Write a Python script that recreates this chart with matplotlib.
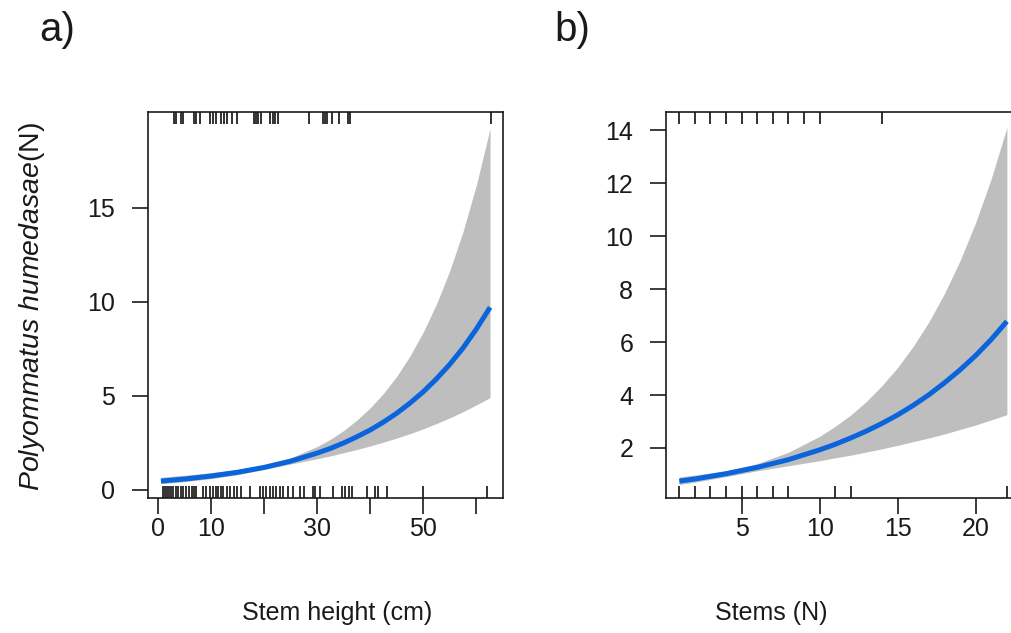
import numpy as np
import matplotlib
matplotlib.use("Agg")
import matplotlib.pyplot as plt

# panel a) : stem height effect (fit + 95% band)
height_x = [0.5, 5, 10, 15, 20, 25, 30, 32.5, 35, 37.5, 40, 42.5, 45, 47.5, 50, 52.5, 55, 57.5, 60, 62.6]
height_fit = [0.45, 0.56, 0.72, 0.92, 1.18, 1.51, 1.94, 2.19, 2.48, 2.81, 3.17, 3.59, 4.06, 4.60, 5.20,
              5.89, 6.66, 7.53, 8.53, 9.69]
height_lo = [0.31, 0.42, 0.58, 0.79, 1.07, 1.36, 1.64, 1.79, 1.96, 2.13, 2.32, 2.52, 2.74, 2.97, 3.23,
             3.51, 3.81, 4.14, 4.50, 4.89]
height_hi = [0.65, 0.76, 0.90, 1.07, 1.31, 1.69, 2.29, 2.68, 3.14, 3.70, 4.35, 5.12, 6.03, 7.11, 8.38,
             9.88, 11.64, 13.72, 16.18, 19.2]
height_rug_bottom = [0.8, 1.3, 1.7, 2.1, 2.4, 2.8, 3.3, 3.8, 4.3, 4.7, 5.2, 5.8, 6.3, 6.8, 7.2,
                     8.5, 9.0, 9.8, 10.4, 10.8, 11.2, 11.8, 12.3, 12.9, 13.5, 14.2, 14.9, 15.7,
                     17.3, 19.2, 19.7, 20.4, 21.1, 21.6, 22.3, 23.0, 23.6, 24.5, 25.5, 26.7, 27.4,
                     29.2, 29.6, 30.5, 33.0, 34.6, 35.2, 36.0, 36.6, 39.3, 40.9, 41.4, 43.1, 50.0, 62.1]
height_rug_top = [3.0, 3.3, 4.2, 4.6, 6.7, 7.1, 7.9, 9.8, 10.3, 10.9, 11.8, 12.4, 13.0, 14.0, 14.9,
                  18.1, 18.4, 18.9, 19.3, 21.1, 21.6, 22.0, 22.5, 28.5, 31.0, 31.5, 31.8, 32.8,
                  34.1, 35.8, 36.2, 62.7]

# panel b) : number of stems
stems_x = [1, 2, 4, 6, 8, 10, 11, 12, 13, 14, 15, 16, 17, 18, 19, 20, 21, 22]
stems_fit = [0.75, 0.83, 1.03, 1.27, 1.56, 1.93, 2.14, 2.38, 2.64, 2.93, 3.25, 3.61, 4.01, 4.46,
             4.95, 5.49, 6.10, 6.78]
stems_lo = [0.62, 0.71, 0.92, 1.14, 1.33, 1.52, 1.63, 1.73, 1.85, 1.97, 2.10, 2.24, 2.38, 2.53,
            2.70, 2.87, 3.06, 3.26]
stems_hi = [0.91, 0.98, 1.14, 1.41, 1.84, 2.44, 2.82, 3.25, 3.76, 4.36, 5.04, 5.84, 6.76, 7.83,
            9.07, 10.51, 12.17, 14.1]
stems_rug_bottom = [1, 2, 3, 4, 5, 6, 7, 8, 11, 12, 22]
stems_rug_top = [1, 2, 3, 4, 5, 6, 7, 8, 9, 10, 14]

plt.rcParams['font.family'] = ['Liberation Sans', 'DejaVu Sans']
plt.rcParams['mathtext.fontset'] = 'custom'
plt.rcParams['mathtext.it'] = 'Liberation Sans:italic'
plt.rcParams['mathtext.rm'] = 'Liberation Sans'

W, H = 1011, 633
ink = '#1a1a1a'
fig = plt.figure(figsize=(W / 100, H / 100), dpi=100)
ax1 = fig.add_axes([148 / W, 135 / H, 355 / W, 386 / H])
ax2 = fig.add_axes([666 / W, 135 / H, 354 / W, 386 / H])


def draw_panel(ax, x, fit, lo, hi, rug_bottom, rug_top):
    ax.fill_between(x, lo, hi, color='#bebebe', lw=0, zorder=1)
    ax.plot(x, fit, color='#0a64dc', lw=3.6, solid_capstyle='butt', zorder=3)
    trans = ax.get_xaxis_transform()
    ax.vlines(rug_bottom, 0, 0.03, transform=trans, color='#111111', lw=1.2, zorder=2)
    ax.vlines(rug_top, 0.969, 1, transform=trans, color='#111111', lw=1.2, zorder=2)
    for s in ax.spines.values():
        s.set_linewidth(1.2)
        s.set_color(ink)
    ax.tick_params(axis='both', length=11.5, width=1.2, labelsize=18, color=ink,
                   labelcolor=ink)
    ax.tick_params(axis='x', pad=2)
    ax.tick_params(axis='y', pad=12)


draw_panel(ax1, height_x, height_fit, height_lo, height_hi, height_rug_bottom, height_rug_top)
ax1.set_xlim(-1.94, 65.04)
ax1.set_ylim(-0.45, 20.08)
ax1.set_xticks([0, 10, 20, 30, 40, 50, 60])
ax1.set_xticklabels(['0', '10', '', '30', '', '50', ''])
ax1.set_yticks([0, 5, 10, 15])
ax1.set_xlabel('Stem height (cm)', fontsize=18, color=ink)
ax1.xaxis.set_label_coords(0.532, -0.266)

draw_panel(ax2, stems_x, stems_fit, stems_lo, stems_hi, stems_rug_bottom, stems_rug_top)
ax2.set_xlim(0.15, 22.84)
ax2.set_ylim(0.113, 14.68)
ax2.set_xticks([5, 10, 15, 20])
ax2.set_yticks([2, 4, 6, 8, 10, 12, 14])
ax2.set_xlabel('Stems (N)', fontsize=18, color=ink)
ax2.xaxis.set_label_coords(0.297, -0.266)

fig.text(32 / W, 1 - 306 / H, r'$\mathit{Polyommatus\ humedasae}$(N)', rotation=90,
         ha='center', va='center', fontsize=20.5, color=ink)
fig.text(57 / W, 1 - 30 / H, 'a)', ha='center', va='center', fontsize=29, color=ink)
fig.text(572 / W, 1 - 30 / H, 'b)', ha='center', va='center', fontsize=29, color=ink)

fig.savefig('out.png', dpi=100)
